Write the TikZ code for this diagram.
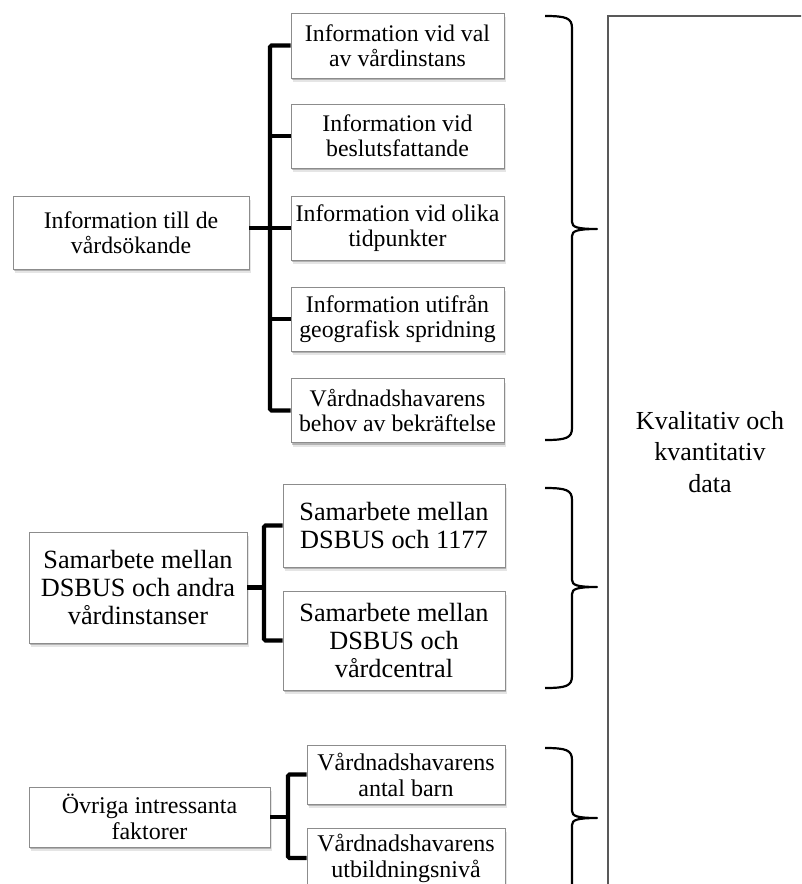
\documentclass[tikz,border=0pt]{standalone}
\usepackage{fontspec}
\setmainfont{Liberation Serif}
\usetikzlibrary{shadows}

\tikzset{
  box/.style={draw=black!45, line width=0.9pt, fill=white, inner sep=0pt, align=center,
    drop shadow={shadow xshift=1.2pt, shadow yshift=-2pt, opacity=0.22, fill=black},
    drop shadow={shadow xshift=2.4pt, shadow yshift=-4pt, opacity=0.10, fill=black}},
  txtA/.style={font=\fontsize{23.8}{25}\selectfont},
  txtB/.style={font=\fontsize{26.3}{27.7}\selectfont},
  txtC/.style={font=\fontsize{24}{26}\selectfont},
  conn/.style={line width=4.2pt, rounded corners=1.5pt},
  bracestyle/.style={line width=2.2pt, line join=round},
  frame/.style={line width=1.3pt, draw=black!65}
}

% right-pointing curly brace: top y, tip y, bottom y
\newcommand{\rightbrace}[3]{%
  \draw[bracestyle] (545,#1) .. controls (566,#1) and (572,#1+2) .. (572,#1+12)
    -- (572,#2-7) .. controls (572,#2-2) and (577,#2) .. (597,#2)
    .. controls (577,#2) and (572,#2+2) .. (572,#2+7)
    -- (572,#3-12) .. controls (572,#3-2) and (566,#3) .. (545,#3);}

\begin{document}
\begin{tikzpicture}[x=1pt, y=-1pt]
\useasboundingbox (0,0) rectangle (801,884);
\clip (0,0) rectangle (801,884);

% trunk positions of the three trees
\coordinate (t1) at (270,0);
\coordinate (t2) at (264,0);
\coordinate (t3) at (288,0);

% --- Information to care seekers
\node[box, txtA, minimum width=236pt, minimum height=73pt] (p1) at (131,232.5)
  {Information till de\\vårdsökande};
\node[box, txtA, minimum width=213pt, minimum height=65pt] (c11) at (397.5,45.5)
  {Information vid val\\av vårdinstans};
\node[box, txtA, minimum width=213pt, minimum height=64pt] (c12) at (397.5,136)
  {Information vid\\beslutsfattande};
\node[box, txtA, minimum width=213pt, minimum height=64pt] (c13) at (397.5,228)
  {Information vid olika\\tidpunkter};
\node[box, txtA, minimum width=213pt, minimum height=64pt] (c14) at (397.5,319)
  {Information utifrån\\geografisk spridning};
\node[box, txtA, minimum width=213pt, minimum height=64pt] (c15) at (397.5,410.5)
  {Vårdnadshavarens\\behov av bekräftelse};

\draw[conn] (c11.west) -- (c11.west -| t1) -- (c15.west -| t1) -- (c15.west);
\draw[conn] (c12.west) -- (c12.west -| t1);
\draw[conn] (c13.west) -- (c13.west -| t1);
\draw[conn] (c14.west) -- (c14.west -| t1);
\draw[conn] (p1.east |- c13.west) -- (c13.west -| t1);

% --- Cooperation between care providers
\node[box, txtB, minimum width=218pt, minimum height=111pt] (p2) at (138,587.5)
  {Samarbete mellan\\DSBUS och andra\\vårdinstanser};
\node[box, txtB, minimum width=222pt, minimum height=83pt] (c21) at (394,525.5)
  {Samarbete mellan\\DSBUS och 1177};
\node[box, txtB, minimum width=222pt, minimum height=99pt] (c22) at (394,640.5)
  {Samarbete mellan\\DSBUS och\\vårdcentral};

\draw[conn] (c21.west) -- (c21.west -| t2) -- (c22.west -| t2) -- (c22.west);
\draw[conn] (p2.east) -- (p2.east -| t2);

% --- Other factors
\node[box, txtC, minimum width=241pt, minimum height=60pt] (p3) at (149.5,817)
  {Övriga intressanta\\faktorer};
\node[box, txtC, minimum width=198pt, minimum height=59pt] (c31) at (406,774.5)
  {Vårdnadshavarens\\antal barn};
\node[box, txtC, minimum width=198pt, minimum height=60pt] (c32) at (406,858)
  {Vårdnadshavarens\\utbildningsnivå};

\draw[conn] (c31.west) -- (c31.west -| t3) -- (c32.west -| t3) -- (c32.west);
\draw[conn] (p3.east) -- (p3.east -| t3);

% --- braces
\rightbrace{16}{229}{440}
\rightbrace{488}{587}{688}
\rightbrace{748}{818}{900}

% --- data frame
\draw[frame] (608,900) -- (608,16) -- (820,16);
\node[font=\fontsize{26}{31.5}\selectfont, align=center] (data) at (710,452)
  {Kvalitativ och\\kvantitativ\\data};
\end{tikzpicture}
\end{document}
